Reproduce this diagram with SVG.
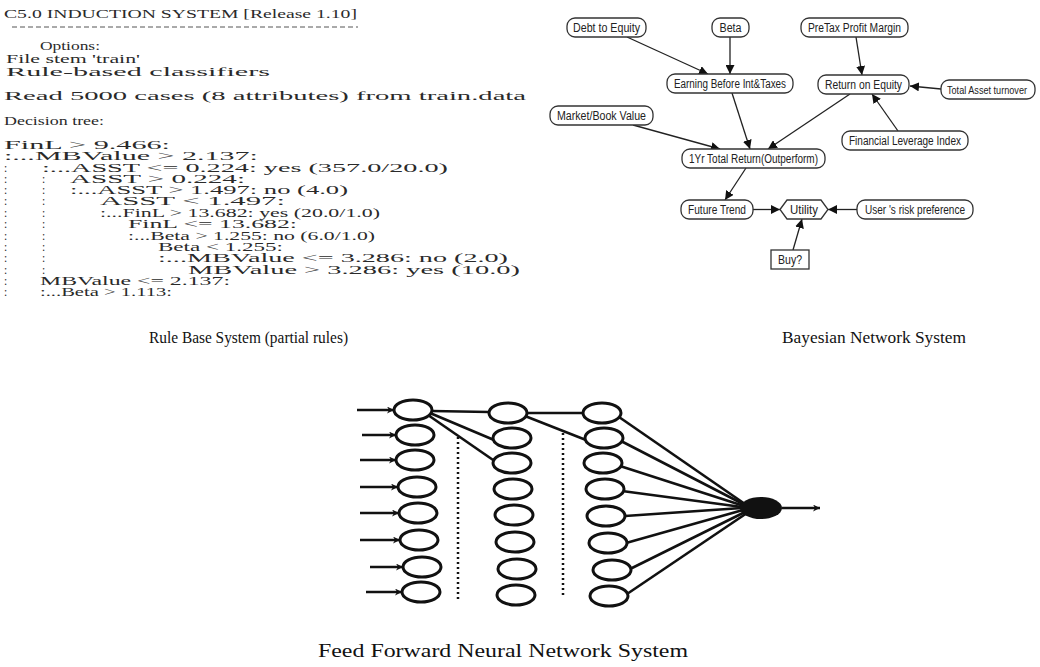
<svg xmlns="http://www.w3.org/2000/svg" width="1040" height="667" viewBox="0 0 1040 667">
<style>
.r{font-family:"Liberation Serif",serif;font-size:11.5px;fill:#2a2a2a}
.b{font-family:"Liberation Sans",Arial,sans-serif;font-size:12px;fill:#222;text-anchor:middle}
.nb{fill:#fff;stroke:#333;stroke-width:1.3}
.cap{font-family:"Liberation Serif",serif;font-size:16px;fill:#111}
.e{fill:#fff;stroke:#111;stroke-width:3}
.bl{stroke:#222;stroke-width:1.3;fill:none;marker-end:url(#ah)}
.nl{stroke:#111;stroke-width:2.6;fill:none}
.dot{stroke:#111;stroke-width:2.5;stroke-dasharray:2 3}
</style>
<defs>
<marker id="ah" viewBox="0 0 10 10" refX="10" refY="5" markerWidth="9" markerHeight="9" markerUnits="userSpaceOnUse" orient="auto"><path d="M0,0L10,5L0,10z" fill="#111"/></marker>
<marker id="ah2" viewBox="0 0 10 10" refX="10" refY="5" markerWidth="9" markerHeight="7" markerUnits="userSpaceOnUse" orient="auto"><path d="M0,0L10,5L0,10L3,5z" fill="#111"/></marker>
</defs>
<rect width="1040" height="667" fill="#fff"/>

<g id="rules">
<text class="r" x="4" y="18" textLength="353" lengthAdjust="spacingAndGlyphs">C5.0 INDUCTION SYSTEM [Release 1.10]</text>
<line x1="12" y1="27" x2="358" y2="27" stroke="#555" stroke-width="1" stroke-dasharray="5 3"/>
<text class="r" x="40" y="50" textLength="60" lengthAdjust="spacingAndGlyphs">Options:</text>
<text class="r" x="6" y="63" textLength="134" lengthAdjust="spacingAndGlyphs">File stem 'train'</text>
<text class="r" x="6" y="76" textLength="264" lengthAdjust="spacingAndGlyphs">Rule-based classifiers</text>
<text class="r" x="4" y="100" textLength="522" lengthAdjust="spacingAndGlyphs">Read 5000 cases (8 attributes) from train.data</text>
<text class="r" x="4" y="125" textLength="100" lengthAdjust="spacingAndGlyphs">Decision tree:</text>
<text class="r" x="4" y="149" textLength="166" lengthAdjust="spacingAndGlyphs">FinL &gt; 9.466:</text>
<text class="r" x="4" y="160" textLength="254" lengthAdjust="spacingAndGlyphs">:...MBValue &gt; 2.137:</text>
<text class="r" y="172"><tspan x="4">:</tspan><tspan x="42" textLength="406" lengthAdjust="spacingAndGlyphs">:...ASST &lt;= 0.224: yes (357.0/20.0)</tspan></text>
<text class="r" y="183"><tspan x="4">:</tspan><tspan x="42">:</tspan><tspan x="70" textLength="175" lengthAdjust="spacingAndGlyphs">ASST &gt; 0.224:</tspan></text>
<text class="r" y="194"><tspan x="4">:</tspan><tspan x="42">:</tspan><tspan x="70" textLength="278" lengthAdjust="spacingAndGlyphs">:...ASST &gt; 1.497: no (4.0)</tspan></text>
<text class="r" y="205"><tspan x="4">:</tspan><tspan x="42">:</tspan><tspan x="100" textLength="185" lengthAdjust="spacingAndGlyphs">ASST &lt;  1.497:</tspan></text>
<text class="r" y="217"><tspan x="4">:</tspan><tspan x="42">:</tspan><tspan x="100" textLength="280" lengthAdjust="spacingAndGlyphs">:...FinL &gt; 13.682: yes (20.0/1.0)</tspan></text>
<text class="r" y="228"><tspan x="4">:</tspan><tspan x="42">:</tspan><tspan x="128" textLength="169" lengthAdjust="spacingAndGlyphs">FinL &lt;= 13.682:</tspan></text>
<text class="r" y="240"><tspan x="4">:</tspan><tspan x="42">:</tspan><tspan x="128" textLength="247" lengthAdjust="spacingAndGlyphs">:...Beta &gt; 1.255: no (6.0/1.0)</tspan></text>
<text class="r" y="251"><tspan x="4">:</tspan><tspan x="42">:</tspan><tspan x="158" textLength="125" lengthAdjust="spacingAndGlyphs">Beta &lt;  1.255:</tspan></text>
<text class="r" y="262"><tspan x="4">:</tspan><tspan x="42">:</tspan><tspan x="158" textLength="350" lengthAdjust="spacingAndGlyphs">:...MBValue &lt;= 3.286: no (2.0)</tspan></text>
<text class="r" y="274"><tspan x="4">:</tspan><tspan x="42">:</tspan><tspan x="188" textLength="332" lengthAdjust="spacingAndGlyphs">MBValue &gt; 3.286: yes (10.0)</tspan></text>
<text class="r" y="285"><tspan x="4">:</tspan><tspan x="40" textLength="190" lengthAdjust="spacingAndGlyphs">MBValue &lt;= 2.137:</tspan></text>
<text class="r" y="296"><tspan x="4">:</tspan><tspan x="40" textLength="132" lengthAdjust="spacingAndGlyphs">:...Beta &gt; 1.113:</tspan></text>
</g>

<g id="bn-connectors">
<line class="bl" x1="627" y1="37" x2="708" y2="74"/>
<line class="bl" x1="730" y1="37" x2="730" y2="74"/>
<line class="bl" x1="732" y1="93" x2="750" y2="149"/>
<line class="bl" x1="633" y1="125" x2="720" y2="149"/>
<line class="bl" x1="850" y1="94" x2="768" y2="149"/>
<line class="bl" x1="856" y1="37" x2="862" y2="75"/>
<line class="bl" x1="941" y1="89" x2="910" y2="86"/>
<line class="bl" x1="898" y1="131" x2="872" y2="94"/>
<line class="bl" x1="746" y1="168" x2="725" y2="200"/>
<line class="bl" x1="753" y1="209.5" x2="780" y2="209.5"/>
<line class="bl" x1="857" y1="209.5" x2="828" y2="209.5"/>
<line class="bl" x1="793" y1="250" x2="802" y2="219"/>
</g>

<g id="bn-debt"><rect class="nb" x="567" y="18" width="79" height="19" rx="8"/><text class="b" x="606.5" y="32" textLength="67" lengthAdjust="spacingAndGlyphs">Debt to Equity</text></g>
<g id="bn-beta"><rect class="nb" x="712" y="18" width="37" height="19" rx="8"/><text class="b" x="730.5" y="32" textLength="22" lengthAdjust="spacingAndGlyphs">Beta</text></g>
<g id="bn-ebit"><rect class="nb" x="667" y="74" width="126" height="19" rx="8"/><text class="b" x="730" y="88" textLength="112" lengthAdjust="spacingAndGlyphs">Earning Before Int&amp;Taxes</text></g>
<g id="bn-mbv"><rect class="nb" x="550" y="106" width="103" height="19" rx="8"/><text class="b" x="601.5" y="120" textLength="89" lengthAdjust="spacingAndGlyphs">Market/Book Value</text></g>
<g id="bn-pretax"><rect class="nb" x="801" y="18" width="107" height="19" rx="8"/><text class="b" x="854.5" y="32" textLength="93" lengthAdjust="spacingAndGlyphs">PreTax Profit Margin</text></g>
<g id="bn-roe"><rect class="nb" x="818" y="75" width="91" height="19" rx="8"/><text class="b" x="863.5" y="89" textLength="77" lengthAdjust="spacingAndGlyphs">Return on Equity</text></g>
<g id="bn-tat"><rect class="nb" x="941" y="80" width="94" height="19" rx="8"/><text class="b" x="987" y="93.5" textLength="80" lengthAdjust="spacingAndGlyphs" style="font-size:10.5px">Total Asset turnover</text></g>
<g id="bn-fli"><rect class="nb" x="842" y="131" width="126" height="19" rx="8"/><text class="b" x="905" y="145" textLength="112" lengthAdjust="spacingAndGlyphs">Financial Leverage Index</text></g>
<g id="bn-1yr"><rect class="nb" x="682" y="149" width="143" height="19" rx="8"/><text class="b" x="753.5" y="163" textLength="129" lengthAdjust="spacingAndGlyphs">1Yr Total Return(Outperform)</text></g>
<g id="bn-future"><rect class="nb" x="681" y="200" width="72" height="19" rx="8"/><text class="b" x="717" y="214" textLength="58" lengthAdjust="spacingAndGlyphs">Future Trend</text></g>
<g id="bn-utility"><polygon class="nb" points="780,209.5 787,200 821,200 828,209.5 821,219 787,219"/><text class="b" x="804" y="214" textLength="28" lengthAdjust="spacingAndGlyphs">Utility</text></g>
<g id="bn-risk"><rect class="nb" x="857" y="200" width="116" height="19" rx="8"/><text class="b" x="915" y="214" textLength="100" lengthAdjust="spacingAndGlyphs">User 's risk preference</text></g>
<g id="bn-buy"><rect class="nb" x="771" y="250" width="38" height="19"/><text class="b" x="790" y="264" textLength="24" lengthAdjust="spacingAndGlyphs">Buy?</text></g>

<g id="captions">
<text class="cap" x="149" y="343" textLength="199" lengthAdjust="spacingAndGlyphs">Rule Base System (partial rules)</text>
<text class="cap" x="782" y="343" textLength="184" lengthAdjust="spacingAndGlyphs">Bayesian Network System</text>
<text class="cap" x="318" y="657" textLength="370" lengthAdjust="spacingAndGlyphs" style="font-size:18px">Feed Forward Neural Network System</text>
</g>

<g id="nn-connectors">
<line class="nl" x1="357" y1="410" x2="394" y2="410" stroke-width="2" marker-end="url(#ah2)"/>
<line class="nl" x1="362" y1="435" x2="396" y2="435" stroke-width="2" marker-end="url(#ah2)"/>
<line class="nl" x1="360" y1="460" x2="396" y2="460" stroke-width="2" marker-end="url(#ah2)"/>
<line class="nl" x1="360" y1="487" x2="398" y2="487" stroke-width="2" marker-end="url(#ah2)"/>
<line class="nl" x1="360" y1="513" x2="399" y2="513" stroke-width="2" marker-end="url(#ah2)"/>
<line class="nl" x1="360" y1="540" x2="400" y2="540" stroke-width="2" marker-end="url(#ah2)"/>
<line class="nl" x1="370" y1="567" x2="403" y2="567" stroke-width="2" marker-end="url(#ah2)"/>
<line class="nl" x1="366" y1="592" x2="402" y2="592" stroke-width="2" marker-end="url(#ah2)"/>
<line class="nl" x1="432" y1="411" x2="489" y2="412"/>
<line class="nl" x1="430" y1="413" x2="494" y2="440"/>
<line class="nl" x1="428" y1="415" x2="496" y2="462"/>
<line class="nl" x1="527" y1="413" x2="583" y2="413"/>
<line class="nl" x1="525" y1="416" x2="586" y2="440"/>
<line class="dot" x1="458" y1="437" x2="458" y2="600"/>
<line class="dot" x1="563" y1="433" x2="563" y2="597"/>
<line class="nl" x1="619" y1="417" x2="745" y2="504"/>
<line class="nl" x1="621" y1="441" x2="745" y2="505"/>
<line class="nl" x1="620" y1="466" x2="744" y2="506"/>
<line class="nl" x1="622" y1="491" x2="742" y2="507"/>
<line class="nl" x1="625" y1="516" x2="742" y2="508"/>
<line class="nl" x1="626" y1="543" x2="743" y2="510"/>
<line class="nl" x1="630" y1="569" x2="745" y2="512"/>
<line class="nl" x1="627" y1="594" x2="747" y2="513"/>
<line class="nl" x1="782" y1="508" x2="820" y2="508" stroke-width="1.8" marker-end="url(#ah2)"/>
</g>

<g id="nn-input">
<ellipse class="e" cx="413" cy="410" rx="19" ry="10"/>
<ellipse class="e" cx="415" cy="435" rx="19" ry="10"/>
<ellipse class="e" cx="415" cy="460" rx="19" ry="10"/>
<ellipse class="e" cx="417" cy="487" rx="19" ry="10"/>
<ellipse class="e" cx="418" cy="513" rx="19" ry="10"/>
<ellipse class="e" cx="419" cy="540" rx="19" ry="10"/>
<ellipse class="e" cx="422" cy="567" rx="19" ry="10"/>
<ellipse class="e" cx="421" cy="592" rx="19" ry="10"/>
</g>
<g id="nn-hidden1">
<ellipse class="e" cx="508" cy="413" rx="19" ry="10"/>
<ellipse class="e" cx="512" cy="438" rx="19" ry="10"/>
<ellipse class="e" cx="512" cy="463" rx="19" ry="10"/>
<ellipse class="e" cx="513" cy="489" rx="19" ry="10"/>
<ellipse class="e" cx="514" cy="515" rx="19" ry="10"/>
<ellipse class="e" cx="515" cy="542" rx="19" ry="10"/>
<ellipse class="e" cx="517" cy="569" rx="19" ry="10"/>
<ellipse class="e" cx="516" cy="595" rx="19" ry="10"/>
</g>
<g id="nn-hidden2">
<ellipse class="e" cx="602" cy="413" rx="19" ry="10"/>
<ellipse class="e" cx="604" cy="438" rx="19" ry="10"/>
<ellipse class="e" cx="603" cy="463" rx="19" ry="10"/>
<ellipse class="e" cx="605" cy="489" rx="19" ry="10"/>
<ellipse class="e" cx="606" cy="516" rx="19" ry="10"/>
<ellipse class="e" cx="608" cy="543" rx="19" ry="10"/>
<ellipse class="e" cx="612" cy="570" rx="19" ry="10"/>
<ellipse class="e" cx="609" cy="596" rx="19" ry="10"/>
</g>
<g id="nn-output"><ellipse cx="761" cy="508" rx="21" ry="11" fill="#111"/></g>
</svg>
